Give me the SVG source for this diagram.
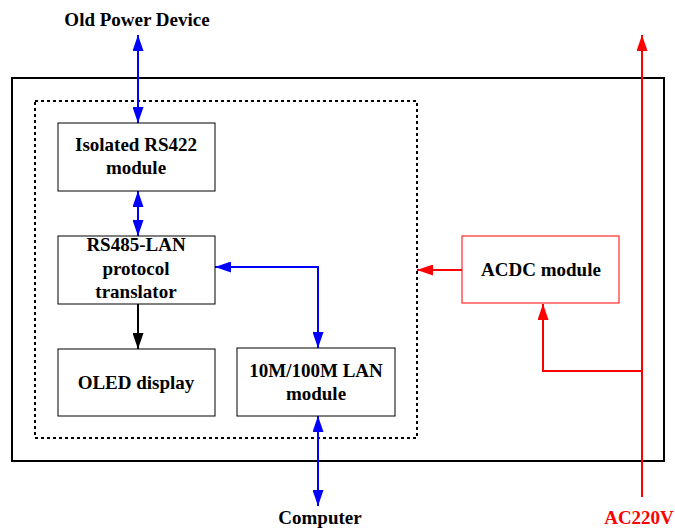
<svg xmlns="http://www.w3.org/2000/svg" width="675" height="529" viewBox="0 0 675 529">
<style>
text{font-family:"Liberation Serif","Times New Roman",serif;font-weight:bold;font-size:19px;text-anchor:middle;fill:#000}
.box{fill:#fff;stroke:#000;stroke-width:1}
.blue{fill:none;stroke:#0000ff;stroke-width:2}
.red{fill:none;stroke:#ff0000;stroke-width:2}
.blk{fill:none;stroke:#000;stroke-width:2}
</style>
<defs>
<marker id="ab" viewBox="0 0 16 11" refX="16" refY="5.5" markerWidth="16" markerHeight="11" markerUnits="userSpaceOnUse" orient="auto-start-reverse"><path d="M0,0L16,5.5L0,11Z" fill="#0000ff"/></marker>
<marker id="ar" viewBox="0 0 16 11" refX="16" refY="5.5" markerWidth="16" markerHeight="11" markerUnits="userSpaceOnUse" orient="auto"><path d="M0,0L16,5.5L0,11Z" fill="#ff0000"/></marker>
<marker id="ak" viewBox="0 0 16 11" refX="16" refY="5.5" markerWidth="16" markerHeight="11" markerUnits="userSpaceOnUse" orient="auto"><path d="M0,0L16,5.5L0,11Z" fill="#000"/></marker>
</defs>
<rect x="0" y="0" width="675" height="529" fill="#fff"/>
<rect x="12" y="78" width="652" height="383" fill="none" stroke="#000" stroke-width="2"/>
<rect x="35" y="101" width="382" height="337" fill="none" stroke="#000" stroke-width="2" stroke-dasharray="3,3"/>
<g id="connectors">
<line class="blue" x1="138" y1="35" x2="138" y2="123" marker-start="url(#ab)" marker-end="url(#ab)"/>
<line class="blue" x1="138" y1="191" x2="138" y2="236" marker-start="url(#ab)" marker-end="url(#ab)"/>
<polyline class="blue" points="215,267 318,267 318,348" marker-start="url(#ab)" marker-end="url(#ab)"/>
<line class="blue" x1="318" y1="416" x2="318" y2="506" marker-start="url(#ab)" marker-end="url(#ab)"/>
<line class="blk" x1="138" y1="304" x2="138" y2="349" marker-end="url(#ak)"/>
<line class="red" x1="642" y1="497" x2="642" y2="35" marker-end="url(#ar)"/>
<polyline class="red" points="642,371 543,371 543,304" marker-end="url(#ar)"/>
<line class="red" x1="462" y1="270" x2="417" y2="270" marker-end="url(#ar)"/>
</g>
<g id="old-power-device"><text x="137" y="26">Old Power Device</text></g>
<g id="computer"><text x="320" y="524">Computer</text></g>
<g id="ac220v"><text x="639" y="524" style="fill:#ff0000">AC220V</text></g>
<g id="rs422"><rect class="box" x="58" y="123" width="157" height="68"/><text x="136" y="151">Isolated RS422</text><text x="136" y="174">module</text></g>
<g id="rs485"><rect class="box" x="58" y="236" width="157" height="68"/><text x="136" y="251">RS485-LAN</text><text x="136" y="275">protocol</text><text x="136" y="298">translator</text></g>
<g id="oled"><rect class="box" x="58" y="349" width="157" height="67"/><text x="136" y="389">OLED display</text></g>
<g id="lan"><rect class="box" x="237" y="348" width="158" height="68"/><text x="316" y="377">10M/100M LAN</text><text x="316" y="400">module</text></g>
<g id="acdc"><rect x="462" y="236" width="157" height="67" fill="#fff" stroke="#ff0000" stroke-width="1"/><text x="541" y="276">ACDC module</text></g>
</svg>
